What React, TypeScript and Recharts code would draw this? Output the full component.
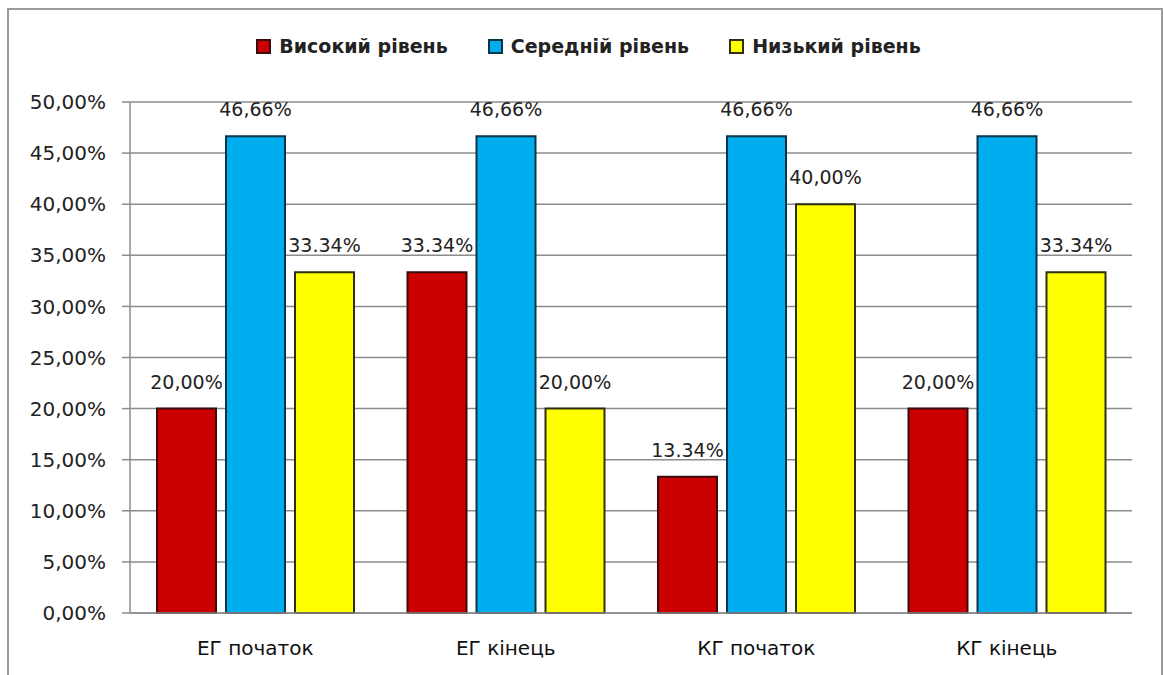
import { Bar, BarChart, CartesianGrid, LabelList, XAxis, YAxis } from "recharts";

const categories = ["ЕГ початок", "ЕГ кінець", "КГ початок", "КГ кінець"];
const highValues = [20.0, 33.34, 13.34, 20.0];
const midValues = [46.66, 46.66, 46.66, 46.66];
const lowValues = [33.34, 20.0, 40.0, 33.34];
const highLabels = ["20,00%", "33.34%", "13.34%", "20,00%"];
const midLabels = ["46,66%", "46,66%", "46,66%", "46,66%"];
const lowLabels = ["33.34%", "20,00%", "40,00%", "33.34%"];
const yTicks = [0, 5, 10, 15, 20, 25, 30, 35, 40, 45, 50];

const series = [
  { key: "high", name: "Високий рівень", fill: "#cc0000", stroke: "#3b0a0a", labels: highLabels },
  { key: "mid", name: "Середній рівень", fill: "#00aeef", stroke: "#0b3346", labels: midLabels },
  { key: "low", name: "Низький рівень", fill: "#ffff00", stroke: "#2e2e10", labels: lowLabels },
];

const data = categories.map((name, i) => ({
  name,
  high: highValues[i],
  mid: midValues[i],
  low: lowValues[i],
}));

const font = "'DejaVu Sans', sans-serif";

function formatTick(v: number) {
  return v.toFixed(2).replace(".", ",") + "%";
}

function makeLabel(labels: string[]) {
  return (props: any) => {
    const { x, y, width, index } = props;
    return (
      <text
        x={Number(x) + Number(width) / 2}
        y={Number(y) - 20}
        textAnchor="middle"
        fill="#222"
        fontSize={19}
        fontFamily={font}
      >
        {labels[index]}
      </text>
    );
  };
}

export default function App() {
  return (
    <div
      style={{
        position: "absolute",
        left: 0,
        top: 0,
        width: 1163,
        height: 675,
        background: "#fff",
        overflow: "hidden",
        fontFamily: font,
      }}
    >
      <div
        style={{
          position: "absolute",
          left: 7,
          top: 8,
          width: 1152,
          height: 700,
          border: "2px solid #9a9a9a",
        }}
      />
      <div
        style={{
          position: "absolute",
          top: 35,
          left: 0,
          width: 1163,
          display: "flex",
          justifyContent: "center",
          gap: 40,
          paddingLeft: 14,
          boxSizing: "border-box",
        }}
      >
        {series.map((s) => (
          <div key={s.key} style={{ display: "flex", alignItems: "center", gap: 8 }}>
            <span
              style={{
                display: "inline-block",
                width: 11,
                height: 11,
                background: s.fill,
                border: `2px solid ${s.stroke}`,
              }}
            />
            <span style={{ fontSize: 19, fontWeight: 600, color: "#222" }}>{s.name}</span>
          </div>
        ))}
      </div>
      <div style={{ position: "absolute", left: 0, top: 0 }}>
        <BarChart
          width={1163}
          height={675}
          data={data}
          margin={{ top: 102, right: 31, bottom: 0, left: 0 }}
          barSize={59}
          barGap={10}
        >
          <CartesianGrid vertical={false} stroke="#8c8c8c" strokeWidth={1.5} />
          <XAxis
            dataKey="name"
            height={62}
            axisLine={{ stroke: "#8c8c8c", strokeWidth: 1.5 }}
            tickLine={false}
            tick={{ fill: "#111", fontSize: 20, fontFamily: font }}
            dy={20}
          />
          <YAxis
            width={130}
            domain={[0, 50]}
            ticks={yTicks}
            interval={0}
            tickFormatter={formatTick}
            axisLine={{ stroke: "#8c8c8c", strokeWidth: 1.5 }}
            tickLine={{ stroke: "#8c8c8c", strokeWidth: 1.5 }}
            tickSize={8}
            tickMargin={16}
            tick={{ fill: "#222", fontSize: 20, fontFamily: font }}
          />
          {series.map((s) => (
            <Bar
              key={s.key}
              dataKey={s.key}
              name={s.name}
              fill={s.fill}
              stroke={s.stroke}
              strokeWidth={2}
              isAnimationActive={false}
            >
              <LabelList dataKey={s.key} content={makeLabel(s.labels)} />
            </Bar>
          ))}
        </BarChart>
      </div>
    </div>
  );
}
